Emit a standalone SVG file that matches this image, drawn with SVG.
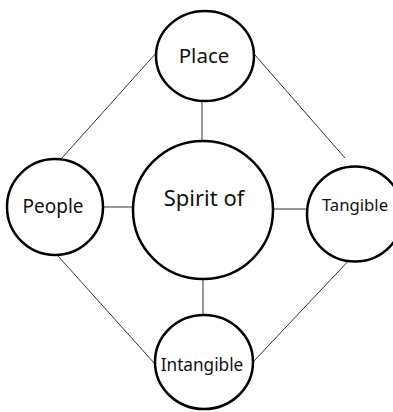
<svg xmlns="http://www.w3.org/2000/svg" width="393" height="412" viewBox="0 0 393 412">
<style>
.node{fill:#fff;stroke:#000;stroke-width:2.5}
.edge{stroke:#333;stroke-width:1;fill:none}
text{font-family:"Noto Sans","Open Sans",sans-serif;fill:#111;text-anchor:middle}
</style>
<rect width="393" height="412" fill="#fff"/>
<g id="connectors">
<line class="edge" x1="62" y1="158" x2="157" y2="52"/>
<line class="edge" x1="255" y1="55" x2="345" y2="158"/>
<line class="edge" x1="58" y1="256" x2="155" y2="364"/>
<line class="edge" x1="353" y1="256" x2="253" y2="362"/>
<line class="edge" x1="202" y1="101" x2="202" y2="141"/>
<line class="edge" x1="203" y1="279" x2="203" y2="315"/>
<line class="edge" x1="103" y1="207" x2="133" y2="207"/>
<line class="edge" x1="273" y1="209" x2="307" y2="209"/>
</g>
<g id="place">
<ellipse class="node" cx="205" cy="56" rx="49" ry="45"/>
<text x="204" y="63" font-size="20.5">Place</text>
</g>
<g id="people">
<ellipse class="node" cx="55" cy="207" rx="48" ry="48"/>
<text x="53" y="213" font-size="19">People</text>
</g>
<g id="spirit">
<ellipse class="node" cx="203" cy="210" rx="70" ry="69"/>
<text x="204" y="206" font-size="22">Spirit of</text>
</g>
<g id="tangible">
<ellipse class="node" cx="355" cy="214" rx="48" ry="47.5"/>
<text x="355" y="211" font-size="16.7">Tangible</text>
</g>
<g id="intangible">
<ellipse class="node" cx="204" cy="362" rx="49" ry="47"/>
<text x="202" y="371" font-size="17.2">Intangible</text>
</g>
</svg>
